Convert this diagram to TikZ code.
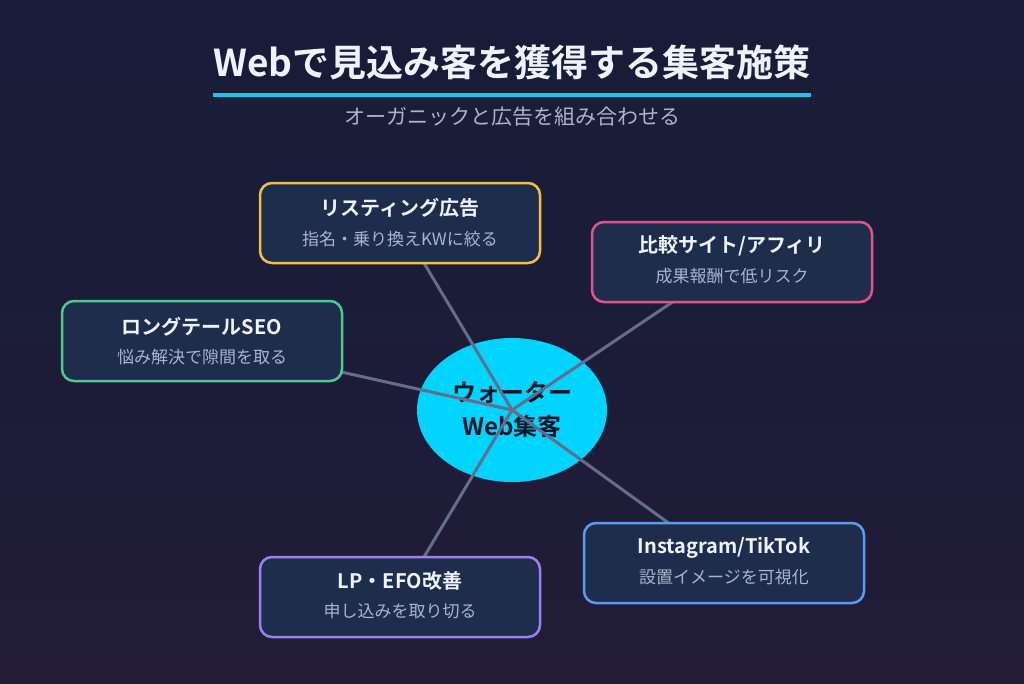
\documentclass[tikz,border=0pt]{standalone}
\usepackage{fontspec}
\setmainfont{Noto Sans CJK JP}[BoldFont={Noto Sans CJK JP Bold}]
\usetikzlibrary{shapes.geometric,backgrounds}
\pgfdeclarelayer{links}
\pgfsetlayers{background,links,main}

\definecolor{bgtop}{HTML}{161D38}
\definecolor{bgbot}{HTML}{221C38}
\definecolor{cardbg}{HTML}{1F2D4D}
\definecolor{titlec}{HTML}{EEF2FA}
\definecolor{subc}{HTML}{AAB4CC}
\definecolor{linkc}{HTML}{646E8C}
\definecolor{hubc}{HTML}{00D4FF}
\definecolor{hubtext}{HTML}{0C1626}
\definecolor{rulec}{HTML}{1FC3E8}
\definecolor{cyel}{HTML}{F2BE4A}
\definecolor{cpink}{HTML}{E6508C}
\definecolor{cgreen}{HTML}{50C88A}
\definecolor{cblue}{HTML}{5B9BEF}
\definecolor{cpurp}{HTML}{9D80F0}

\begin{document}
\begin{tikzpicture}[x=1pt, y=-1pt, every node/.style={inner sep=0pt},
	card/.style={rounded corners=12pt, fill=cardbg, line width=2.5pt, minimum width=280pt, minimum height=80pt},
	cardhead/.style={font=\bfseries\fontsize{20}{20}\selectfont, text=titlec},
	cardsub/.style={font=\fontsize{17}{17}\selectfont, text=subc},
	hub/.style={ellipse, fill=hubc, minimum width=190pt, minimum height=144pt, align=center, text=hubtext, font=\bfseries\fontsize{24}{34}\selectfont},
	link/.style={draw=linkc, line width=3pt}]
	\useasboundingbox (0,0) rectangle (1024,683);
	\begin{pgfonlayer}{background}
		\shade[top color=bgtop, bottom color=bgbot] (0,0) rectangle (1024,683);
		\node[hub] (hub) at (512,410) {ウォーター\\Web集客};
	\end{pgfonlayer}
	% heading
	\node[font=\bfseries\fontsize{37}{37}\selectfont, text=titlec] (ttl) at (512,62) {Webで見込み客を獲得する集客施策};
	\coordinate (rule) at (0,95);
	\draw[rulec, line width=4pt] (ttl.west |- rule) -- (ttl.east |- rule);
	\node[font=\fontsize{21}{21}\selectfont, text=subc] (sub) at (512,117) {オーガニックと広告を組み合わせる};
	% cards
	\node[card, draw=cyel] (lst) at (400,223) {};
	\node[cardhead] (lsth) at (400,208) {リスティング広告};
	\node[cardsub] (lsts) at (400,239) {指名・乗り換えKWに絞る};
	\node[card, draw=cpink] (aff) at (732,262) {};
	\node[cardhead] (affh) at (732,246) {比較サイト/アフィリ};
	\node[cardsub] (affs) at (732,276) {成果報酬で低リスク};
	\node[card, draw=cgreen] (seo) at (202,341) {};
	\node[cardhead] (seoh) at (202,327) {ロングテールSEO};
	\node[cardsub] (seos) at (202,357) {悩み解決で隙間を取る};
	\node[card, draw=cblue] (sns) at (724,563) {};
	\node[cardhead] (snsh) at (724,548) {Instagram/TikTok};
	\node[cardsub] (snss) at (724,577) {設置イメージを可視化};
	\node[card, draw=cpurp] (lp) at (400,597) {};
	\node[cardhead] (lph) at (400,581) {LP・EFO改善};
	\node[cardsub] (lps) at (400,611) {申し込みを取り切る};
	% spokes
	\begin{pgfonlayer}{links}
		\foreach \c in {lst,aff,seo,sns,lp}
			\draw[link] (hub.center) -- (\c.center);
	\end{pgfonlayer}
\end{tikzpicture}
\end{document}
